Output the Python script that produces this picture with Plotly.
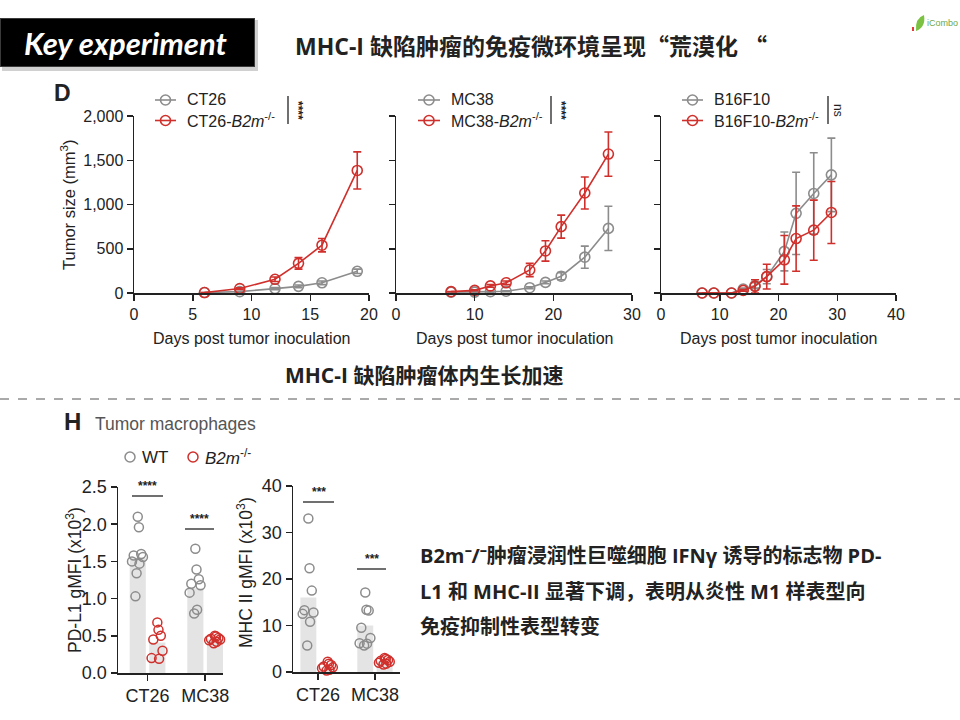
import plotly.graph_objects as go

# ---------------- DATA ----------------
ct26_days = [6, 9, 12, 14, 16, 19]
ct26_wt = [5, 15, 50, 75, 115, 245]
ct26_wt_err = [0, 5, 12, 15, 20, 25]
ct26_ko = [5, 50, 155, 335, 540, 1385]
ct26_ko_err = [0, 10, 25, 65, 75, 210]

mc38_days = [7, 10, 12, 14, 17, 19, 21, 24, 27]
mc38_wt = [10, 10, 15, 20, 60, 120, 190, 405, 730]
mc38_wt_err = [0, 0, 5, 5, 10, 15, 40, 125, 250]
mc38_ko = [15, 30, 80, 115, 260, 475, 750, 1130, 1570]
mc38_ko_err = [0, 5, 15, 20, 75, 115, 130, 180, 250]

b16_days = [7, 9, 12, 14, 16, 18, 21, 23, 26, 29]
b16_wt = [0, 0, 0, 45, 85, 185, 470, 900, 1125, 1335]
b16_wt_err = [0, 0, 0, 10, 30, 80, 220, 465, 460, 415]
b16_ko = [0, 0, 0, 30, 75, 185, 375, 615, 710, 910]
b16_ko_err = [0, 0, 0, 10, 75, 140, 275, 370, 340, 350]

h_categories = ["CT26", "MC38"]
pdl1_wt_mean = [1.55, 1.14]
pdl1_ko_mean = [0.41, 0.45]
pdl1_wt_pts = [[2.10, 1.96, 1.60, 1.58, 1.56, 1.50, 1.47, 1.34, 1.03],
               [1.67, 1.39, 1.26, 1.20, 1.18, 1.08, 0.85, 0.80]]
pdl1_ko_pts = [[0.68, 0.58, 0.50, 0.45, 0.30, 0.20, 0.19],
               [0.50, 0.49, 0.47, 0.46, 0.45, 0.44, 0.42, 0.40]]

mhc2_wt_mean = [16.0, 10.0]
mhc2_ko_mean = [1.0, 2.3]
mhc2_wt_pts = [[33.0, 22.3, 17.5, 13.3, 12.8, 12.5, 10.8, 5.7],
               [17.1, 13.4, 13.2, 9.5, 7.3, 6.2, 6.1, 5.7]]
mhc2_ko_pts = [[2.2, 1.8, 1.5, 1.2, 1.0, 0.8, 0.5, 0.3],
               [3.0, 2.8, 2.6, 2.4, 2.2, 2.0, 1.8, 1.6]]

# ---------------- STYLE ----------------
GRAY = "#8c8c8c"
RED = "#d0302c"
BAR = "#e4e4e4"
INK = "#222222"
FONT = "Arial, Liberation Sans, sans-serif"
CJK = "Open Sans, Noto Sans CJK SC"
W, H = 960, 720
JIT = [0.0, 0.02, 0.06, -0.07, 0.09, -0.10, 0.03, -0.02, -0.04]
GRP = 0.17


def px(x):
    return x / W


def py(y):
    return 1 - y / H


fig = go.Figure()


def growth(days, wt, wt_err, ko, ko_err, n):
    for vals, err, col in [(wt, wt_err, GRAY), (ko, ko_err, RED)]:
        fig.add_trace(go.Scatter(
            x=days, y=vals, mode="lines+markers",
            xaxis="x" + n, yaxis="y" + n,
            line=dict(color=col, width=1.6),
            marker=dict(symbol="circle-open", size=10, color=col, line=dict(width=1.6)),
            error_y=dict(type="data", array=err, visible=True, color=col, thickness=1.6, width=4),
            cliponaxis=False, showlegend=False, hoverinfo="skip"))


growth(ct26_days, ct26_wt, ct26_wt_err, ct26_ko, ct26_ko_err, "")
growth(mc38_days, mc38_wt, mc38_wt_err, mc38_ko, mc38_ko_err, "2")
growth(b16_days, b16_wt, b16_wt_err, b16_ko, b16_ko_err, "3")


def dotbar(wt_mean, ko_mean, wt_pts, ko_pts, n):
    xs_wt = [i - GRP for i in range(len(h_categories))]
    xs_ko = [i + GRP for i in range(len(h_categories))]
    fig.add_trace(go.Bar(x=xs_wt + xs_ko, y=wt_mean + ko_mean, width=0.28,
                         marker=dict(color=BAR, line=dict(width=0)),
                         xaxis="x" + n, yaxis="y" + n, showlegend=False, hoverinfo="skip"))
    for pts_list, xs, col in [(wt_pts, xs_wt, GRAY), (ko_pts, xs_ko, RED)]:
        for pts, x0 in zip(pts_list, xs):
            fig.add_trace(go.Scatter(
                x=[x0 + JIT[k % len(JIT)] for k in range(len(pts))], y=pts, mode="markers",
                marker=dict(symbol="circle-open", size=9, color=col, line=dict(width=1.5)),
                xaxis="x" + n, yaxis="y" + n, cliponaxis=False, showlegend=False,
                hoverinfo="skip"))


dotbar(pdl1_wt_mean, pdl1_ko_mean, pdl1_wt_pts, pdl1_ko_pts, "4")
dotbar(mhc2_wt_mean, mhc2_ko_mean, mhc2_wt_pts, mhc2_ko_pts, "5")

ax = dict(showline=True, linecolor=INK, linewidth=1.5, ticks="outside", ticklen=6,
          tickwidth=1.5, tickcolor=INK, showgrid=False, zeroline=False, automargin=False,
          tickfont=dict(family=FONT, size=16, color=INK), fixedrange=True)
hf = dict(family=FONT, size=18, color=INK)

yd = [py(293), py(116)]
ytv = [0, 500, 1000, 1500, 2000]
ytt = ["0", "500", "1,000", "1,500", "2,000"]

fig.update_layout(
    width=W, height=H, margin=dict(l=0, r=0, t=0, b=0, pad=0), autosize=False,
    paper_bgcolor="white", plot_bgcolor="rgba(0,0,0,0)",
    xaxis=dict(ax, domain=[px(134), px(369)], range=[0, 20], tickvals=[0, 5, 10, 15, 20], anchor="y"),
    yaxis=dict(ax, domain=yd, range=[0, 2000], tickvals=ytv, ticktext=ytt, anchor="x"),
    xaxis2=dict(ax, domain=[px(396), px(632)], range=[0, 30], tickvals=[0, 10, 20, 30], anchor="y2"),
    yaxis2=dict(ax, domain=yd, range=[0, 2000], tickvals=ytv, showticklabels=False, anchor="x2"),
    xaxis3=dict(ax, domain=[px(661), px(896)], range=[0, 40], tickvals=[0, 10, 20, 30, 40], anchor="y3"),
    yaxis3=dict(ax, domain=yd, range=[0, 2000], tickvals=ytv, showticklabels=False, anchor="x3"),
    xaxis4=dict(ax, domain=[px(118), px(223)], range=[-0.513, 1.31], tickvals=[0, 1],
                ticktext=h_categories, anchor="y4", tickfont=hf),
    yaxis4=dict(ax, domain=[py(673), py(487)], range=[0, 2.5], tickvals=[0, 0.5, 1, 1.5, 2, 2.5],
                tickformat=".1f", anchor="x4", tickfont=hf),
    xaxis5=dict(ax, domain=[px(293), px(400)], range=[-0.44, 1.44], tickvals=[0, 1],
                ticktext=h_categories, anchor="y5", tickfont=hf),
    yaxis5=dict(ax, domain=[py(672), py(486)], range=[0, 40], tickvals=[0, 10, 20, 30, 40],
                anchor="x5", tickfont=hf),
    showlegend=False,
)

ann = []
shapes = []


def text(x, y, t, size=15, color=INK, family=FONT, xanchor="left", angle=0, yanchor="middle"):
    ann.append(dict(x=px(x), y=py(y), xref="paper", yref="paper", text=t, showarrow=False,
                    xanchor=xanchor, yanchor=yanchor, textangle=angle,
                    font=dict(family=family, size=size, color=color)))


def line(x0, y0, x1, y1, color=INK, width=1.5, dash="solid"):
    shapes.append(dict(type="line", xref="paper", yref="paper", x0=px(x0), y0=py(y0),
                       x1=px(x1), y1=py(y1), line=dict(color=color, width=width, dash=dash)))


def circ(cx, cy, r, color, width=1.6):
    shapes.append(dict(type="circle", xref="paper", yref="paper", x0=px(cx - r), x1=px(cx + r),
                       y0=py(cy + r), y1=py(cy - r), line=dict(color=color, width=width)))


def rect(x0, y0, x1, y1, color, opacity=1.0):
    shapes.append(dict(type="rect", xref="paper", yref="paper", x0=px(x0), x1=px(x1),
                       y0=py(y1), y1=py(y0), fillcolor=color, line=dict(width=0), opacity=opacity))


# header
rect(2, 20, 258, 71, "#b0b0b0", 0.6)
rect(0, 18, 255, 67, "#3a3a3a")
rect(1, 19, 254, 66, "black")
text(126, 43, "<b><i>Key experiment</i></b>", size=31, color="white", family="Lato", xanchor="center")
Q = "<span style='font-family:Noto Sans CJK SC'>“</span>"
text(293, 45, "<b>MHC-I 缺陷肿瘤的免疫微环境呈现" + Q + "荒漠化 " + Q + "</b>", size=23, family=CJK)
# logo
shapes.append(dict(type="path", xref="paper", yref="paper",
                   path="M {} {} Q {} {} {} {} Q {} {} {} {} Z".format(
                       px(916), py(31), px(915), py(18), px(924), py(15),
                       px(926), py(27), px(916), py(31)),
                   fillcolor="#7cc242", line=dict(width=0)))
rect(912, 27, 914, 31, "#e23b3b")
text(925, 23, "iCombo", size=9, color="#6aa84f", family=FONT)

# Panel D
text(52, 93, "<b>D</b>", size=23, family=FONT)
text(68, 205, "Tumor size (mm<sup>3</sup>)", size=16.5, family=FONT, xanchor="center", angle=-90)
for cx in [251, 514, 778]:
    text(cx, 338, "Days post tumor inoculation", size=16, family=FONT, xanchor="center")

legends = [(155, 176, "CT26", "CT26-<i>B2m</i><sup>-/-</sup>", 288, "****"),
           (418, 440, "MC38", "MC38-<i>B2m</i><sup>-/-</sup>", 551, "****"),
           (682, 703, "B16F10", "B16F10-<i>B2m</i><sup>-/-</sup>", 828, "ns")]
for x0, x1, t1, t2, sx, sig in legends:
    for yy, col, t in [(100, GRAY, t1), (120.5, RED, t2)]:
        line(x0, yy, x1, yy, color=col, width=1.6)
        circ((x0 + x1) / 2, yy, 5, col)
        text(x1 + 9, yy, t, size=16, family=FONT, color=INK)
    line(sx, 96, sx, 124, color=INK, width=1.3)
    text(sx + 1, 110, "<b>" + sig + "</b>" if sig != "ns" else sig, size=12, family=FONT,
         angle=90, xanchor="left")

text(283, 375, "<b>MHC-I 缺陷肿瘤体内生长加速</b>", size=21, family=CJK)

line(0, 399, 960, 399, color="#555555", width=1, dash="dash")

# Panel H
text(62, 421, "<b>H</b>", size=24, family=FONT)
text(93, 424, "Tumor macrophages", size=17.5, family=FONT, color="#555555")
circ(130, 457, 5, GRAY, 1.5)
text(140, 457, "WT", size=17, family=FONT)
circ(193, 457, 5, RED, 1.5)
text(203, 457, "<i>B2m</i><sup>-/-</sup>", size=17, family=FONT)
text(74, 580, "PD-L1 gMFI (x10<sup>3</sup>)", size=17.5, family=FONT, xanchor="center", angle=-90)
text(245, 572, "MHC II gMFI (x10<sup>3</sup>)", size=17.5, family=FONT, xanchor="center", angle=-90)

sigs = [(132, 163, 496, "****"), (185, 214, 529, "****"), (303, 334, 502, "***"), (357, 386, 569, "***")]
for x0, x1, yy, s in sigs:
    line(x0, yy, x1, yy, color=INK, width=1.3)
    text((x0 + x1) / 2, yy - 1, "<b>" + s + "</b>", size=12, family=FONT, xanchor="center",
         yanchor="bottom")

# right text
lines_txt = ["<b>B2m⁻/⁻肿瘤浸润性巨噬细胞 IFNγ 诱导的标志物 PD-</b>",
             "<b>L1 和 MHC-II 显著下调，表明从炎性 M1 样表型向</b>",
             "<b>免疫抑制性表型转变</b>"]
for t, yy in zip(lines_txt, [555, 591, 626]):
    text(418, yy, t, size=20, family=CJK)

fig.update_layout(annotations=ann, shapes=shapes)
fig.write_html("out.html", config={"displayModeBar": False, "staticPlot": True},
               post_script="document.body.style.margin='0';")
